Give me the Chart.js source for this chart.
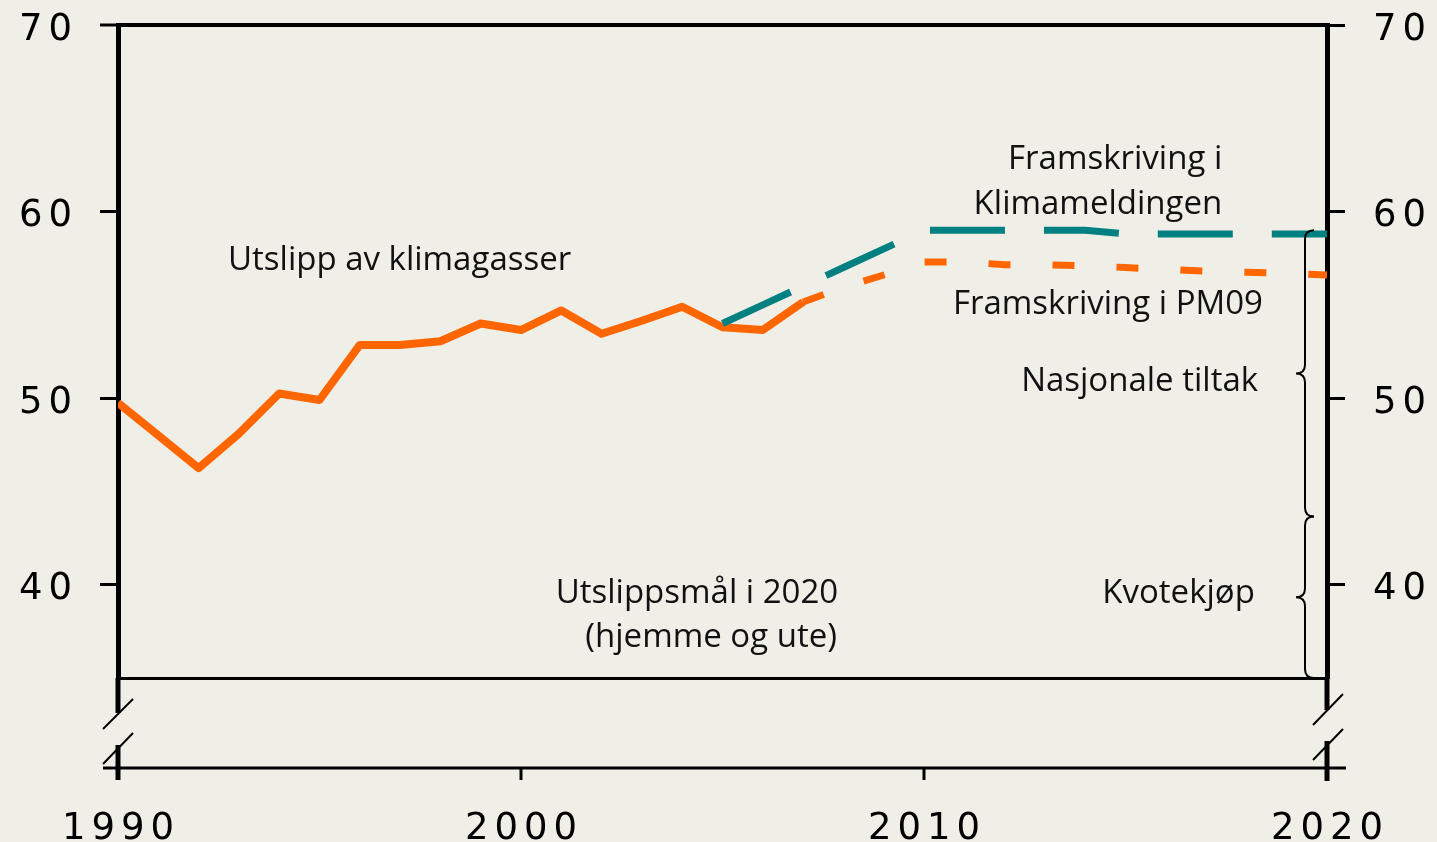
<!DOCTYPE html>
<html>
<head>
<meta charset="utf-8">
<script src="https://cdn.jsdelivr.net/npm/chart.js@4.4.1/dist/chart.umd.min.js"></script>
<style>
  html, body { margin: 0; padding: 0; background: #f0efe7; overflow: hidden; }
  #wrap { width: 1437px; height: 842px; }
</style>
</head>
<body>
<div id="wrap"><canvas id="chart" width="1437" height="842"></canvas></div>
<script>
// Utslipp av klimagasser, historikk (mill. tonn CO2-ekvivalenter)
const histYears  = [1990, 1991, 1992, 1993, 1994, 1995, 1996, 1997, 1998, 1999, 2000, 2001, 2002, 2003, 2004, 2005, 2006, 2007];
const histValues = [49.75, 48.0, 46.25, 48.1, 50.25, 49.9, 52.85, 52.85, 53.05, 54.0, 53.65, 54.7, 53.45, 54.15, 54.9, 53.8, 53.65, 55.15];

// Framskriving i PM09
const pm09Years  = [2007, 2008, 2009, 2010, 2011, 2012, 2013, 2014, 2015, 2016, 2017, 2018, 2019, 2020];
const pm09Values = [55.15, 55.95, 56.6, 57.3, 57.3, 57.15, 57.15, 57.1, 57.0, 56.9, 56.8, 56.75, 56.7, 56.6];

// Framskriving i Klimameldingen
const klimaYears  = [2005, 2006, 2007, 2008, 2009, 2010, 2011, 2012, 2013, 2014, 2015, 2016, 2017, 2018, 2019, 2020];
const klimaValues = [54.0, 55.0, 56.0, 57.0, 58.0, 59.0, 59.0, 59.0, 59.0, 59.0, 58.8, 58.8, 58.8, 58.8, 58.8, 58.8];

const xTicks = [1990, 2000, 2010, 2020];
const yTicks = [40, 50, 60, 70];

// brace limits on the right (top = Klimameldingen in 2020, bottom = target)
const braceTop = 59.0;
const braceMid = 43.65;
const braceBottom = 35;

// text notes placed in data coordinates
const notes = [
  { text: "Utslipp av klimagasser", x: 1992.73, y: 56.88, align: "left" },
  { text: "Framskriving i",         x: 2017.4,  y: 62.29, align: "right" },
  { text: "Klimameldingen",         x: 2017.4,  y: 59.88, align: "right" },
  { text: "Framskriving i PM09",    x: 2018.41, y: 54.52, align: "right" },
  { text: "Nasjonale tiltak",       x: 2018.29, y: 50.40, align: "right" },
  { text: "Kvotekjøp",              x: 2018.21, y: 39.04, align: "right" },
  { text: "Utslippsmål i 2020",     x: 2007.87, y: 39.04, align: "right" },
  { text: "(hjemme og ute)",        x: 2007.84, y: 36.68, align: "right" }
];

const ORANGE = "#ff6600";
const TEAL = "#008080";
const tickFont = { family: "DejaVu Sans", size: 37 };

function toPoints(xs, ys) {
  return xs.map((x, i) => ({ x: x, y: ys[i] }));
}

function line(ctx, x1, y1, x2, y2, w) {
  ctx.lineWidth = w;
  ctx.beginPath();
  ctx.moveTo(x1, y1);
  ctx.lineTo(x2, y2);
  ctx.stroke();
}

function brace(ctx, x, y1, y2) {
  const m = (y1 + y2) / 2, r = 9;
  ctx.lineWidth = 2;
  ctx.beginPath();
  ctx.moveTo(x + r, y1);
  ctx.quadraticCurveTo(x, y1, x, y1 + r);
  ctx.lineTo(x, m - r);
  ctx.quadraticCurveTo(x, m, x - r, m);
  ctx.quadraticCurveTo(x, m, x, m + r);
  ctx.lineTo(x, y2 - r);
  ctx.quadraticCurveTo(x, y2, x + r, y2);
  ctx.stroke();
}

// keep the plot box fixed; no extra room for overhanging tick labels
function noPad(s) {
  s.paddingLeft = 0;
  s.paddingRight = 0;
  s.paddingTop = 0;
  s.paddingBottom = 0;
}

const decor = {
  id: "decor",
  beforeDraw(chart) {
    // wide tick lettering
    chart.ctx.letterSpacing = "6px";
  },
  beforeDatasetsDraw(chart) {
    chart.ctx.letterSpacing = "0px";
  },
  afterDatasetsDraw(chart) {
    const ctx = chart.ctx;
    const xs = chart.scales.x, ys = chart.scales.y;
    const ca = chart.chartArea;
    const L = xs.getPixelForValue(1990), R = xs.getPixelForValue(2020);
    const b = ca.bottom;
    ctx.save();
    ctx.strokeStyle = "#000";
    ctx.lineCap = "butt";

    // axes run on below the plot, then break
    line(ctx, L, b, L, b + 35, 5);
    line(ctx, R, b, R, b + 32, 5);
    line(ctx, L - 15, b + 51, L + 15, b + 21, 2);
    line(ctx, L - 15, b + 86, L + 15, b + 55, 2);
    line(ctx, R - 14, b + 47, R + 16, b + 16, 2);
    line(ctx, R - 14, b + 82, R + 16, b + 51, 2);

    // lower time axis
    const ay = b + 90;
    line(ctx, L - 15, ay, R + 19, ay, 3);
    line(ctx, L, ay - 23, L, ay + 12, 5);
    line(ctx, R, ay - 27, R, ay + 13, 5);
    xTicks.slice(1, -1).forEach(v => {
      const px = xs.getPixelForValue(v);
      line(ctx, px, ay, px, ay + 12, 3);
    });

    // braces
    const bx = R - 22;
    brace(ctx, bx, ys.getPixelForValue(braceTop), ys.getPixelForValue(braceMid));
    brace(ctx, bx, ys.getPixelForValue(braceMid), ys.getPixelForValue(braceBottom));

    // notes
    ctx.fillStyle = "#111";
    ctx.font = "33px 'Open Sans'";
    ctx.textBaseline = "alphabetic";
    notes.forEach(n => {
      ctx.textAlign = n.align;
      ctx.fillText(n.text, xs.getPixelForValue(n.x), ys.getPixelForValue(n.y));
    });
    ctx.restore();
  }
};

const ctx = document.getElementById("chart").getContext("2d");
new Chart(ctx, {
  type: "line",
  data: {
    datasets: [
      {
        label: "Framskriving i Klimameldingen",
        data: toPoints(klimaYears, klimaValues),
        borderColor: TEAL,
        borderWidth: 7,
        borderDash: [75, 39],
        pointRadius: 0,
        tension: 0,
        fill: false
      },
      {
        label: "Framskriving i PM09",
        data: toPoints(pm09Years, pm09Values),
        borderColor: ORANGE,
        borderWidth: 7,
        borderDash: [22, 42],
        pointRadius: 0,
        tension: 0,
        fill: false
      },
      {
        label: "Utslipp av klimagasser",
        data: toPoints(histYears, histValues),
        borderColor: ORANGE,
        borderWidth: 8,
        borderJoinStyle: "round",
        pointRadius: 0,
        tension: 0,
        fill: false
      }
    ]
  },
  options: {
    responsive: false,
    animation: false,
    devicePixelRatio: 1,
    layout: { padding: { top: 25, left: 0, right: 0, bottom: 0 } },
    plugins: {
      legend: { display: false },
      tooltip: { enabled: false }
    },
    scales: {
      x: {
        type: "linear",
        min: 1990,
        max: 2020,
        afterBuildTicks: s => { s.ticks = xTicks.map(v => ({ value: v })); },
        afterFit: s => { s.height = 164; noPad(s); },
        grid: { display: false, drawTicks: false },
        border: { display: true, color: "#000", width: 3 },
        ticks: {
          padding: 129,
          labelOffset: 3,
          font: tickFont,
          color: "#000",
          maxRotation: 0,
          autoSkip: false,
          callback: v => String(v)
        }
      },
      y: {
        type: "linear",
        position: "left",
        min: 35,
        max: 70,
        afterBuildTicks: s => { s.ticks = yTicks.map(v => ({ value: v })); },
        afterFit: s => { s.width = 118; noPad(s); },
        grid: {
          drawOnChartArea: true,
          color: c => (c.tick && c.tick.value === 70) ? "#000" : "rgba(0,0,0,0)",
          lineWidth: c => (c.tick && c.tick.value === 70) ? 4 : 1,
          tickColor: "#000",
          tickWidth: 3,
          tickLength: 18
        },
        border: { color: "#000", width: 5 },
        ticks: { padding: 22, labelOffset: 5, font: tickFont, color: "#000" }
      },
      y2: {
        type: "linear",
        position: "right",
        min: 35,
        max: 70,
        afterBuildTicks: s => { s.ticks = yTicks.map(v => ({ value: v })); },
        afterFit: s => { s.width = 110; noPad(s); },
        grid: {
          drawOnChartArea: false,
          tickColor: "#000",
          tickWidth: 3,
          tickLength: 18
        },
        border: { color: "#000", width: 5 },
        ticks: { padding: 28, labelOffset: 5, font: tickFont, color: "#000" }
      }
    }
  },
  plugins: [decor]
});
</script>
</body>
</html>
